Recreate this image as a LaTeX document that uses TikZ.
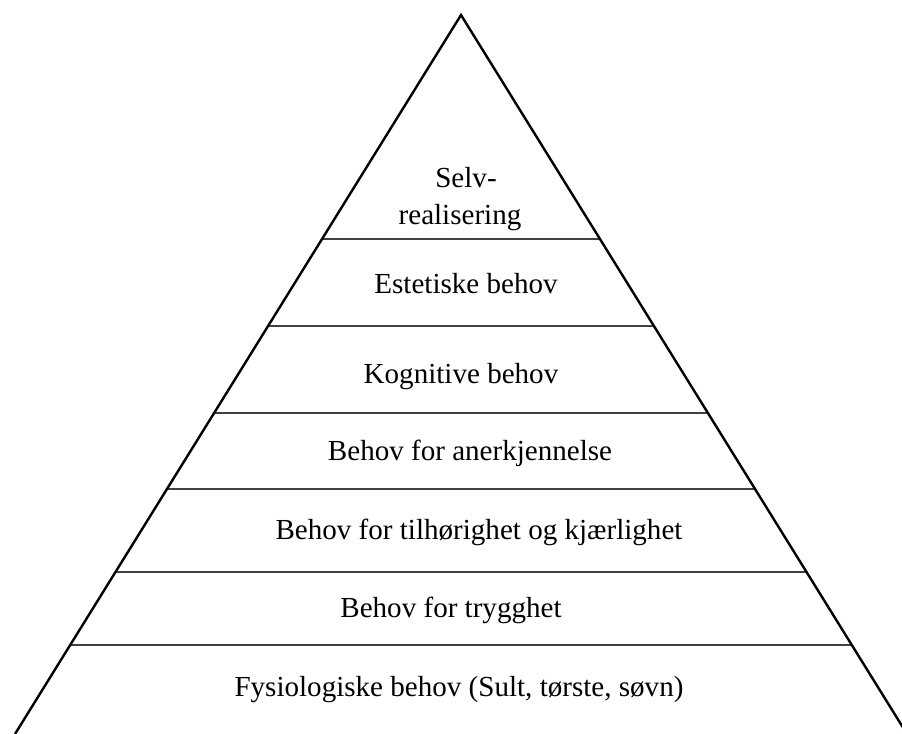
\documentclass[tikz,border=0pt]{standalone}
\usepackage{fontspec}
\setmainfont{Liberation Serif}
\usetikzlibrary{calc}

\begin{document}
\begin{tikzpicture}[x=0.75pt,y=-0.75pt]
    \tikzstyle{every node}=[font={\fontsize{21.8}{26}\selectfont}, anchor=base, inner sep=0pt]
    \tikzstyle{edge}=[line width=1.8pt, black, line join=miter]
    \tikzstyle{level}=[line width=1.1pt, black!75]
    \useasboundingbox (0,0) rectangle (902,734);
    \clip (0,0) rectangle (902,734);
    \coordinate (top) at (461,15);
    \coordinate (bl) at (15,734);
    \coordinate (br) at (907,734);
    % levels
    \foreach \y [count=\i] in {239,326,413,489,572,645} {
        \coordinate (l\i) at ($(top)!{(\y-15)/719}!(bl)$);
        \coordinate (r\i) at ($(top)!{(\y-15)/719}!(br)$);
        \draw[level] (l\i) -- (r\i);
    }
    \draw[edge] (bl) -- (top) -- (br);
    \node (selv) at (466,188) {Selv-};
    \node (real) at (460,224) {realisering};
    \node (este) at (466,293) {Estetiske behov};
    \node (kogn) at (461,383) {Kognitive behov};
    \node (aner) at (470,460) {Behov for anerkjennelse};
    \node (tilh) at (479,539) {Behov for tilhørighet og kjærlighet};
    \node (tryg) at (451,617) {Behov for trygghet};
    \node (fysi) at (459,696) {Fysiologiske behov (Sult, tørste, søvn)};
\end{tikzpicture}
\end{document}
